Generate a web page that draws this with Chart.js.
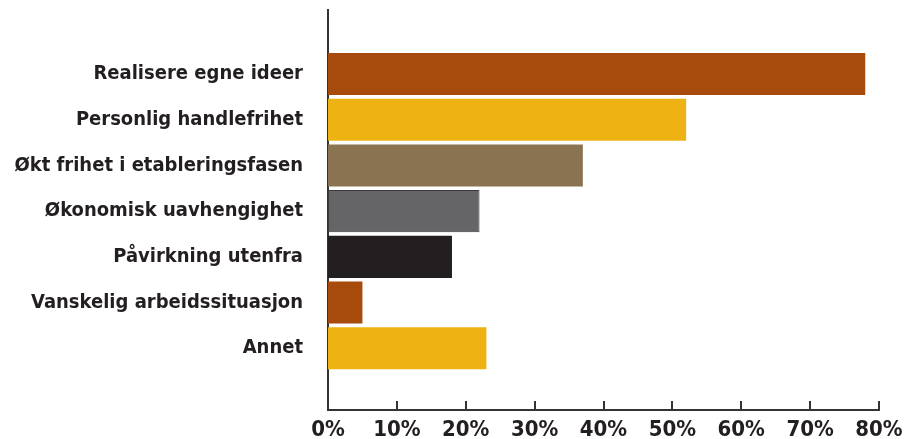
<!DOCTYPE html>
<html lang="no">
<head>
<meta charset="utf-8">
<title>Motiver</title>
<script src="https://cdn.jsdelivr.net/npm/chart.js@4/dist/chart.umd.min.js"></script>
<style>
  html, body { margin: 0; padding: 0; background: #fff; }
  #wrap { width: 904px; height: 439px; }
</style>
</head>
<body>
<div id="wrap"><canvas id="motivChart" width="904" height="439"></canvas></div>
<script>
// Kategorier og andeler (prosent)
const kategorier = [
    'Realisere egne ideer',
    'Personlig handlefrihet',
    'Økt frihet i etableringsfasen',
    'Økonomisk uavhengighet',
    'Påvirkning utenfra',
    'Vanskelig arbeidssituasjon',
    'Annet'
];
const andeler = [78, 52, 37, 22, 18, 5, 23];
const farger = ['#a64b0c', '#eeb212', '#8a7350', '#656567', '#231f20', '#a64b0c', '#eeb212'];
const kantbredde = [0, 0, 0, 1, 0, 0, 0];
const xTicks = [0, 10, 20, 30, 40, 50, 60, 70, 80];

const fontFamilie = '"DejaVu Sans Condensed", "Liberation Sans Narrow", sans-serif';
const tekstFarge = '#231f20';

// Små tikkstreker som peker opp fra x-aksen
const tikkStreker = {
    id: 'tikkStreker',
    afterDraw(chart) {
        const x = chart.scales.x;
        const ctx = chart.ctx;
        ctx.save();
        ctx.strokeStyle = '#333';
        ctx.lineWidth = 2;
        xTicks.forEach(v => {
            const px = Math.round(x.getPixelForValue(v));
            ctx.beginPath();
            ctx.moveTo(px, x.top);
            ctx.lineTo(px, x.top - 9);
            ctx.stroke();
        });
        ctx.restore();
    }
};

const ctx = document.getElementById('motivChart').getContext('2d');
new Chart(ctx, {
    type: 'bar',
    data: {
        datasets: [{
            data: andeler.map((v, i) => ({ x: v, y: i })),
            backgroundColor: farger,
            borderColor: '#3a3a3a',
            borderWidth: kantbredde,
            borderSkipped: false,
            categoryPercentage: 1,
            barPercentage: 0.92
        }]
    },
    options: {
        indexAxis: 'y',
        responsive: false,
        animation: false,
        layout: { padding: { top: 10, right: 25, left: 0, bottom: 0 } },
        plugins: {
            legend: { display: false },
            tooltip: { enabled: false }
        },
        scales: {
            x: {
                type: 'linear',
                min: 0,
                max: 80,
                afterBuildTicks: (scale) => { scale.ticks = xTicks.map(v => ({ value: v })); },
                afterFit: (scale) => {
                    scale.height = 29;
                    scale.paddingLeft = 0;
                    scale.paddingRight = 0;
                },
                grid: { display: false, drawTicks: false },
                border: { display: true, color: '#333', width: 2 },
                ticks: {
                    padding: 7,
                    color: tekstFarge,
                    font: { family: fontFamilie, size: 22, weight: 'bold' },
                    callback: (v) => v + '%'
                }
            },
            y: {
                type: 'linear',
                offset: false,
                reverse: true,
                min: -1.4,
                max: 7.35,
                afterBuildTicks: (scale) => { scale.ticks = kategorier.map((k, i) => ({ value: i })); },
                afterFit: (scale) => {
                    scale.width = 328;
                    scale.paddingTop = 0;
                    scale.paddingBottom = 0;
                },
                grid: { display: false, drawTicks: false },
                border: { display: true, color: '#333', width: 2 },
                ticks: {
                    padding: 25,
                    color: tekstFarge,
                    font: { family: fontFamilie, size: 20, weight: 'bold' },
                    callback: (v) => kategorier[v]
                }
            }
        }
    },
    plugins: [tikkStreker]
});
</script>
</body>
</html>
